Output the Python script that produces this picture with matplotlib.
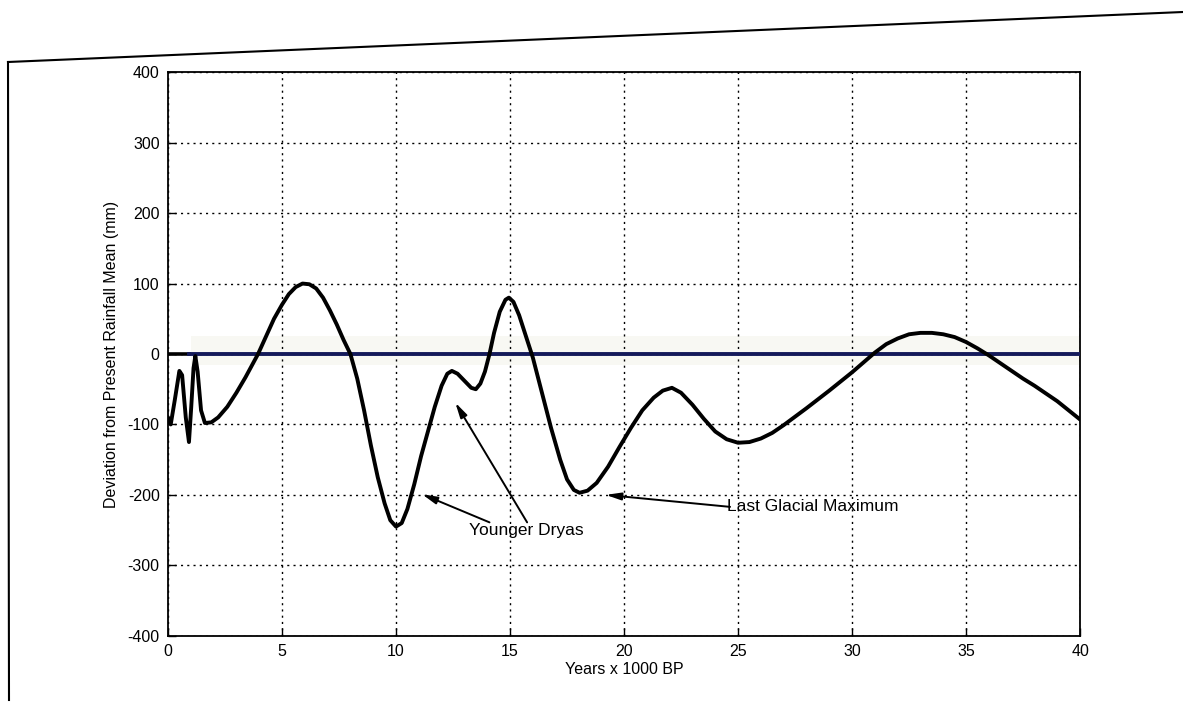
import matplotlib
matplotlib.use("Agg")
import matplotlib.pyplot as plt
from matplotlib.lines import Line2D

plt.rcParams['font.family'] = ['Liberation Sans', 'DejaVu Sans']
plt.rcParams['axes.unicode_minus'] = False

# Rainfall deviation record (thousands of years BP vs. mm)
years_kbp = [0.0, 0.12, 0.3, 0.5, 0.62, 0.78, 0.92, 1.02, 1.12, 1.2, 1.3, 1.45,
             1.62, 1.9, 2.2, 2.6, 3.0, 3.4, 3.7, 3.95, 4.3, 4.65, 5.0, 5.3, 5.6,
             5.9, 6.2, 6.5, 6.8, 7.1, 7.4, 7.7, 8.0, 8.3, 8.6, 8.9, 9.2, 9.5,
             9.75, 10.0, 10.25, 10.5, 10.8, 11.1, 11.4, 11.7, 12.0, 12.25,
             12.45, 12.7, 13.0, 13.3, 13.5, 13.7, 13.9, 14.1, 14.3, 14.55, 14.8,
             14.95, 15.15, 15.4, 15.7, 16.0, 16.4, 16.8, 17.2, 17.5, 17.8, 18.05,
             18.4, 18.8, 19.3, 19.8, 20.3, 20.8, 21.3, 21.7, 22.1, 22.5, 23.0,
             23.5, 24.0, 24.5, 25.0, 25.5, 26.0, 26.5, 27.0, 28.0, 29.0, 30.0,
             30.5, 31.0, 31.5, 32.0, 32.5, 33.0, 33.5, 34.0, 34.5, 35.0, 35.5,
             36.0, 36.5, 37.0, 37.5, 38.0, 38.5, 39.0, 39.5, 40.0]
deviation_mm = [-90, -100, -65, -24, -30, -90, -125, -75, -20, -3, -25, -80,
                -98, -97, -90, -75, -55, -33, -15, 0, 25, 50, 70, 85, 95,
                100, 99, 93, 80, 62, 42, 20, 0, -35, -80, -130, -175, -212,
                -236, -245, -240, -220, -185, -145, -110, -75, -45, -28,
                -24, -28, -38, -48, -50, -42, -25, 0, 30, 60, 77,
                80, 74, 55, 25, -5, -55, -105, -150, -178, -193, -197,
                -194, -183, -160, -132, -105, -80, -62, -52, -48, -55, -72,
                -92, -110, -121, -126, -125, -120, -112, -101, -77, -52, -26,
                -12, 2, 14, 22, 28, 30, 30, 28, 24, 17, 8,
                -2, -13, -24, -35, -45, -56, -67, -80, -93]

present_mean = [0.0, 0.0]
present_span = [0.9, 40.0]

x_ticks = [0, 5, 10, 15, 20, 25, 30, 35, 40]
y_ticks = [-400, -300, -200, -100, 0, 100, 200, 300, 400]

fig = plt.figure(figsize=(11.83, 7.08), dpi=100)
ax = fig.add_axes([0.142, 0.102, 0.771, 0.796])

ax.set_xlim(0, 40)
ax.set_ylim(-400, 400)
ax.set_xticks(x_ticks)
ax.set_yticks(y_ticks)
ax.tick_params(direction='in', length=6, width=1.0, labelsize=11.5, pad=6)
ax.grid(True, linestyle=(0, (1.5, 3)), color='black', linewidth=1.0)
for s in ax.spines.values():
    s.set_linewidth(1.3)

# faint highlight behind the reference line
ax.axhspan(-15, 25, xmin=0.025, xmax=1.0, color='#f8f8f3', zorder=0.5, lw=0)
ax.plot([0, 0.9], present_mean, color='black', lw=2.6, zorder=3)
ax.plot(present_span, present_mean, color='#141a5a', lw=2.8, zorder=3)

ax.plot(years_kbp, deviation_mm, color='black', lw=2.8, zorder=4,
        solid_joinstyle='round', solid_capstyle='round')

ax.set_xlabel('Years x 1000 BP', fontsize=11.5, labelpad=2)
ax.set_ylabel('Deviation from Present Rainfall Mean (mm)', fontsize=11.5, labelpad=6)

arrow = dict(arrowstyle='-|>,head_length=0.9,head_width=0.22', color='black',
             lw=1.4, shrinkA=0, shrinkB=0)
ax.annotate('', xy=(11.14, -199), xytext=(14.1, -239), arrowprops=arrow)
ax.annotate('', xy=(12.6, -69), xytext=(15.75, -239), arrowprops=arrow)
ax.text(15.7, -250, 'Younger Dryas', ha='center', va='center', fontsize=12.5)

ax.annotate('', xy=(19.2, -200), xytext=(24.65, -217), arrowprops=arrow)
ax.text(24.5, -217, 'Last Glacial Maximum', ha='left', va='center', fontsize=12.5)

# page border around the figure
fig.add_artist(Line2D([8 / 1183, 1.0], [1 - 62 / 708, 1 - 12 / 708],
                      transform=fig.transFigure, color='black', lw=1.5))
fig.add_artist(Line2D([8 / 1183, 9 / 1183], [1 - 62 / 708, 1 - 700 / 708],
                      transform=fig.transFigure, color='black', lw=1.5))

fig.savefig('out.png', dpi=100)
